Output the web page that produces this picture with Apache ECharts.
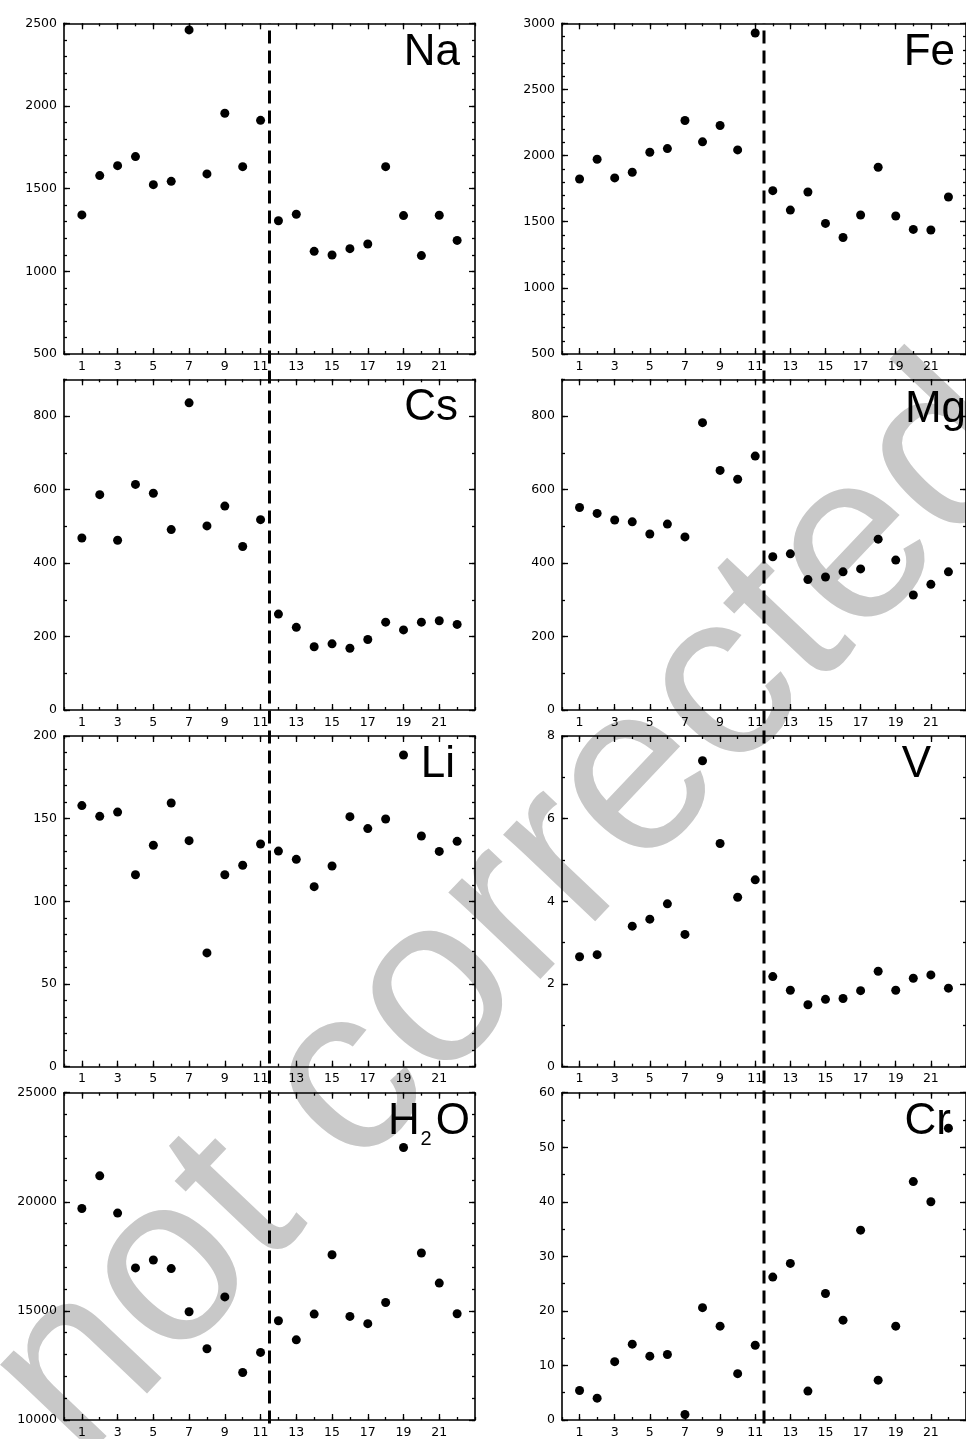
<!DOCTYPE html>
<html>
<head>
<meta charset="utf-8">
<script src="https://cdn.jsdelivr.net/npm/echarts@6/dist/echarts.min.js"></script>
<style>
html,body{margin:0;padding:0;background:#fff;}
#chart{width:966px;height:1439px;}
</style>
</head>
<body>
<div id="chart"></div>
<script>
// ---------- data ----------
const samples = [1,2,3,4,5,6,7,8,9,10,11,12,13,14,15,16,17,18,19,20,21,22];
const dividerX = 11.5;
const xTickLabels = [1,3,5,7,9,11,13,15,17,19,21];

const naValues  = [1341,1579,1639,1694,1524,1544,2460,1589,1956,1633,1913,1306,1345,1121,1099,1137,1165,1633,1337,1095,1339,1187];
const feValues  = [1823,1972,1831,1874,2025,2053,2265,2104,2227,2043,2927,1735,1588,1725,1487,1381,1551,1912,1543,1442,1437,1687];
const csValues  = [468,586,462,614,590,491,836,501,555,445,518,261,225,172,180,168,192,239,218,239,243,233];
const mgValues  = [551,535,517,512,479,506,471,782,652,628,691,417,425,355,362,376,384,465,408,313,342,376];
const liValues  = [157.9,151.4,154.0,116.1,133.9,159.5,136.7,68.8,116.1,121.8,134.7,130.4,125.4,108.9,121.4,151.2,144.0,149.8,188.5,139.5,130.2,136.3];
const vValues   = [2.66,2.71,null,3.40,3.57,3.94,3.20,7.40,5.40,4.10,4.52,2.18,1.85,1.50,1.63,1.65,1.84,2.31,1.85,2.14,2.22,1.90];
const h2oValues = [19692,21189,19481,16970,17333,16940,14959,13266,15640,12177,13099,14551,13674,14853,17575,14747,14415,15383,22490,17651,16275,14868];
const crValues  = [5.4,4.0,10.7,13.9,11.7,12.0,1.0,20.6,17.2,8.5,13.7,26.2,28.7,5.3,23.2,18.3,34.8,7.3,17.2,43.7,40.0,53.5];

const naTicks  = [500,1000,1500,2000,2500];
const feTicks  = [500,1000,1500,2000,2500,3000];
const csTicks  = [0,200,400,600,800];
const mgTicks  = [0,200,400,600,800];
const liTicks  = [0,50,100,150,200];
const vTicks   = [0,2,4,6,8];
const h2oTicks = [10000,15000,20000,25000];
const crTicks  = [0,10,20,30,40,50,60];

// ---------- panel definitions ----------
const panels = [
  {name:'Na',  values:naValues,  ticks:naTicks,  min:500,   max:2500,  minor:100},
  {name:'Fe',  values:feValues,  ticks:feTicks,  min:500,   max:3000,  minor:100},
  {name:'Cs',  values:csValues,  ticks:csTicks,  min:0,     max:900,   minor:100},
  {name:'Mg',  values:mgValues,  ticks:mgTicks,  min:0,     max:900,   minor:100},
  {name:'Li',  values:liValues,  ticks:liTicks,  min:0,     max:200,   minor:10},
  {name:'V',   values:vValues,   ticks:vTicks,   min:0,     max:8,     minor:1},
  {name:'H2O', values:h2oValues, ticks:h2oTicks, min:10000, max:25000, minor:1000},
  {name:'Cr',  values:crValues,  ticks:crTicks,  min:0,     max:60,    minor:5}
];

// ---------- layout ----------
const colLeft = [64, 562];
const rowTop = [23.3, 379.3, 736, 1092.7];
const gridW = 411, gridH = 330.7;
const labelLayout = {
  Na: {x:460, y:53}, Fe: {x:955, y:53},
  Cs: {x:458, y:408}, Mg: {x:966, y:410},
  Li: {x:455, y:764.5}, V: {x:931, y:764.5},
  Cr: {x:951, y:1121.5}
};

const black = '#000';
const labelFont = {fontFamily:'DejaVu Sans', fontSize:12.5, color:'#000', formatter: v => String(v)};
const option = {
  animation:false,
  backgroundColor:'#fff',
  grid:[], xAxis:[], yAxis:[], series:[], graphic:[]
};

function tick(len, extra){ return Object.assign({show:true, inside:true, length:len, lineStyle:{color:black, width:1.3}}, extra||{}); }

panels.forEach((p, i) => {
  const col = i % 2, row = Math.floor(i / 2);
  const gi = option.grid.length;
  option.grid.push({left:colLeft[col], top:rowTop[row], width:gridW, height:gridH});

  const xBase = {type:'value', gridIndex:gi, min:0, max:23, interval:1,
    splitLine:{show:false}, axisPointer:{show:false}};
  const lineOn = {show:true, onZero:false, lineStyle:{color:black, width:1.6}};
  const lineOff = {show:false, onZero:false};
  const xi = option.xAxis.length;
  option.xAxis.push(
    Object.assign({}, xBase, {position:'bottom', axisLine:lineOn, axisTick:tick(3),
      axisLabel:Object.assign({show:true, customValues:xTickLabels, margin:6}, labelFont)}),
    Object.assign({}, xBase, {position:'bottom', axisLine:lineOff, axisTick:tick(6, {customValues:xTickLabels}), axisLabel:{show:false}}),
    Object.assign({}, xBase, {position:'top', axisLine:lineOn, axisTick:tick(3), axisLabel:{show:false}}),
    Object.assign({}, xBase, {position:'top', axisLine:lineOff, axisTick:tick(6, {customValues:xTickLabels}), axisLabel:{show:false}})
  );

  const yBase = {type:'value', gridIndex:gi, min:p.min, max:p.max, interval:p.minor,
    splitLine:{show:false}, axisPointer:{show:false}};
  const yi = option.yAxis.length;
  option.yAxis.push(
    Object.assign({}, yBase, {position:'left', axisLine:lineOn, axisTick:tick(3),
      axisLabel:Object.assign({show:true, customValues:p.ticks, margin:7}, labelFont)}),
    Object.assign({}, yBase, {position:'left', axisLine:lineOff, axisTick:tick(6, {customValues:p.ticks}), axisLabel:{show:false}}),
    Object.assign({}, yBase, {position:'right', axisLine:lineOn, axisTick:tick(3), axisLabel:{show:false}}),
    Object.assign({}, yBase, {position:'right', axisLine:lineOff, axisTick:tick(6, {customValues:p.ticks}), axisLabel:{show:false}})
  );

  const pts = [];
  samples.forEach((s, k) => { if (p.values[k] !== null) pts.push([s, p.values[k]]); });
  option.series.push({
    type:'scatter', name:p.name, xAxisIndex:xi, yAxisIndex:yi,
    data:pts, symbol:'circle', symbolSize:9, clip:false, z:3,
    itemStyle:{color:black, opacity:1}, silent:true
  });

  if (p.name !== 'H2O') {
    const L = labelLayout[p.name];
    option.graphic.push({type:'text', x:L.x, y:L.y, z:5, silent:true,
      style:{text:p.name, font:'44px "Liberation Sans"', fill:black,
        textAlign:'right', align:'right', textVerticalAlign:'middle', verticalAlign:'middle'}});
  }
});

// H2O label with subscript
option.graphic.push(
  {type:'text', x:388, y:1122, z:5, silent:true,
   style:{text:'H', font:'44px "Liberation Sans"', fill:black, textAlign:'left', align:'left', textVerticalAlign:'middle', verticalAlign:'middle'}},
  {type:'text', x:420.5, y:1139, z:5, silent:true,
   style:{text:'2', font:'20px "Liberation Sans"', fill:black, textAlign:'left', align:'left', textVerticalAlign:'middle', verticalAlign:'middle'}},
  {type:'text', x:470, y:1122, z:5, silent:true,
   style:{text:'O', font:'44px "Liberation Sans"', fill:black, textAlign:'right', align:'right', textVerticalAlign:'middle', verticalAlign:'middle'}}
);

// watermark
option.graphic.push({type:'text', x:513, y:912, rotation:46.5*Math.PI/180, z:-10, silent:true,
  style:{text:'not corrected', font:'239px "Liberation Sans"', fill:'#c8c8c8',
    textAlign:'center', align:'center', textVerticalAlign:'middle', verticalAlign:'middle'}});

// divider lines spanning each column
[0,1].forEach(col => {
  const gi = option.grid.length;
  option.grid.push({left:colLeft[col], top:rowTop[0], width:gridW, height:rowTop[3] + gridH - rowTop[0]});
  const xi = option.xAxis.length, yi = option.yAxis.length;
  option.xAxis.push({type:'value', gridIndex:gi, min:0, max:23, show:false});
  option.yAxis.push({type:'value', gridIndex:gi, min:0, max:1, show:false});
  option.series.push({type:'line', xAxisIndex:xi, yAxisIndex:yi, data:[[dividerX,0],[dividerX,1]],
    showSymbol:false, symbol:'none', silent:true, z:4,
    lineStyle:{color:black, width:3, type:[13,7]}});
});

const chart = echarts.init(document.getElementById('chart'), null, {renderer:'canvas'});
chart.setOption(option);
</script>
</body>
</html>
